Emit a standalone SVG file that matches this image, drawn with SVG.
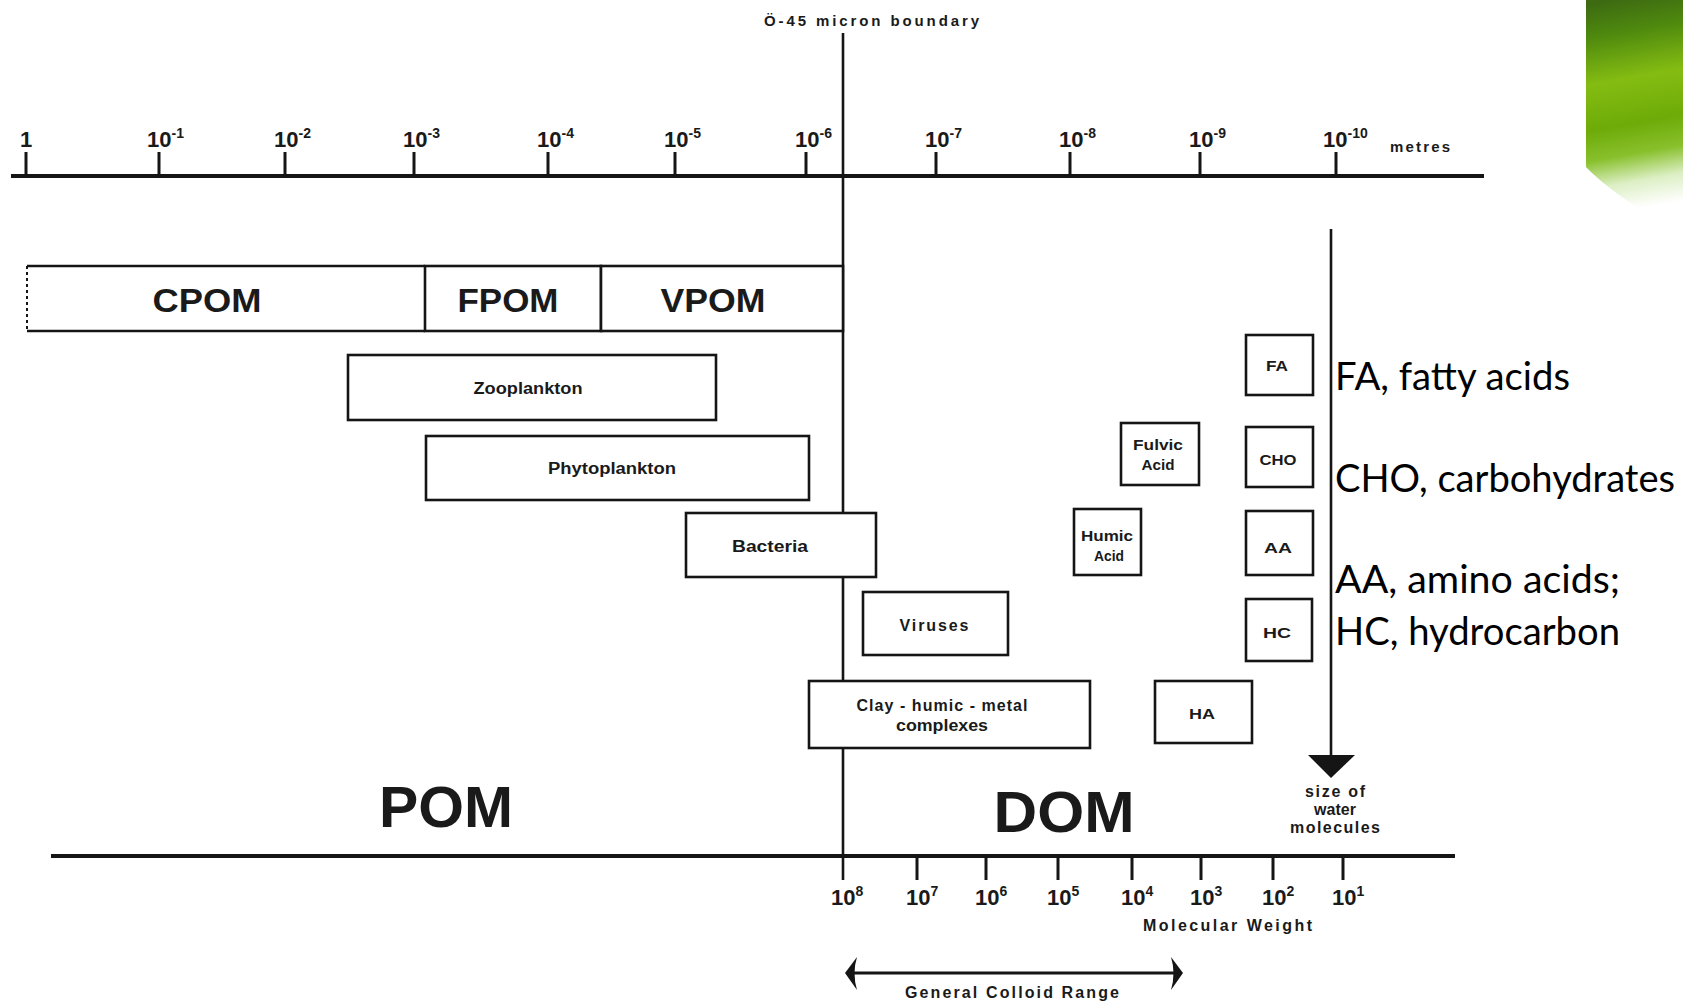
<svg xmlns="http://www.w3.org/2000/svg" width="1683" height="1003" viewBox="0 0 1683 1003">
<style>
.box{fill:#fff;stroke:#151515;stroke-width:2.6}
.ln{stroke:#151515;fill:none}
.lbl{font-family:"Liberation Sans",Arial,sans-serif;font-weight:bold;fill:#1a1a1a;text-anchor:middle}
.num{font-family:"Liberation Sans",Arial,sans-serif;font-weight:bold;font-size:22px;fill:#1a1a1a}
.sup{font-size:14px}
.note{font-family:Lato,"Open Sans",sans-serif;font-size:38px;fill:#000}
</style>
<defs>
<linearGradient id="grn" gradientUnits="userSpaceOnUse" x1="1610" y1="0" x2="1650" y2="225">
<stop offset="0" stop-color="#3d6a12"/>
<stop offset="0.15" stop-color="#4f8a0e"/>
<stop offset="0.35" stop-color="#84bc12"/>
<stop offset="0.55" stop-color="#6eab08"/>
<stop offset="0.68" stop-color="#88c02c"/>
<stop offset="0.8" stop-color="#dcefc4"/>
<stop offset="0.92" stop-color="#ffffff"/>
</linearGradient>
</defs>
<rect width="1683" height="1003" fill="#fff"/>
<path d="M1586,0 L1683,0 L1683,232 C1650,217 1610,192 1586,167 Z" fill="url(#grn)"/>

<g id="connectors">
  <line class="ln" x1="11" y1="176" x2="1484" y2="176" stroke-width="4"/>
  <g class="ln" stroke-width="3">
    <line x1="26" y1="152" x2="26" y2="176"/>
    <line x1="159" y1="152" x2="159" y2="176"/>
    <line x1="285" y1="152" x2="285" y2="176"/>
    <line x1="414" y1="152" x2="414" y2="176"/>
    <line x1="548" y1="152" x2="548" y2="176"/>
    <line x1="675" y1="152" x2="675" y2="176"/>
    <line x1="806" y1="152" x2="806" y2="176"/>
    <line x1="936" y1="152" x2="936" y2="176"/>
    <line x1="1070" y1="152" x2="1070" y2="176"/>
    <line x1="1200" y1="152" x2="1200" y2="176"/>
    <line x1="1336" y1="152" x2="1336" y2="176"/>
  </g>
  <line class="ln" x1="843" y1="33" x2="843" y2="880" stroke-width="2.6"/>
  <line class="ln" x1="51" y1="856" x2="1455" y2="856" stroke-width="4"/>
  <g class="ln" stroke-width="3">
    <line x1="917" y1="856" x2="917" y2="880"/>
    <line x1="986" y1="856" x2="986" y2="880"/>
    <line x1="1058" y1="856" x2="1058" y2="880"/>
    <line x1="1132" y1="856" x2="1132" y2="880"/>
    <line x1="1201" y1="856" x2="1201" y2="880"/>
    <line x1="1273" y1="856" x2="1273" y2="880"/>
    <line x1="1343" y1="856" x2="1343" y2="880"/>
  </g>
  <line class="ln" x1="1331" y1="229" x2="1331" y2="760" stroke-width="2.6"/>
  <path d="M1308,755 L1355,755 L1331,778 Z" fill="#151515"/>
  <line class="ln" x1="852" y1="973" x2="1176" y2="973" stroke-width="3"/>
  <path d="M845,973 L857,957 Q852,973 857,990 Z" fill="#151515"/>
  <path d="M1183,973 L1171,957 Q1176,973 1171,990 Z" fill="#151515"/>
</g>

<g id="axis-labels">
  <text x="764" y="26" class="lbl" style="text-anchor:start;font-size:15px" textLength="215" lengthAdjust="spacing">Ö-45 micron boundary</text>
  <text x="20" y="147" class="num">1</text>
  <text x="147" y="147" class="num">10<tspan class="sup" dy="-9">-1</tspan></text>
  <text x="274" y="147" class="num">10<tspan class="sup" dy="-9">-2</tspan></text>
  <text x="403" y="147" class="num">10<tspan class="sup" dy="-9">-3</tspan></text>
  <text x="537" y="147" class="num">10<tspan class="sup" dy="-9">-4</tspan></text>
  <text x="664" y="147" class="num">10<tspan class="sup" dy="-9">-5</tspan></text>
  <text x="795" y="147" class="num">10<tspan class="sup" dy="-9">-6</tspan></text>
  <text x="925" y="147" class="num">10<tspan class="sup" dy="-9">-7</tspan></text>
  <text x="1059" y="147" class="num">10<tspan class="sup" dy="-9">-8</tspan></text>
  <text x="1189" y="147" class="num">10<tspan class="sup" dy="-9">-9</tspan></text>
  <text x="1323" y="147" class="num">10<tspan class="sup" dy="-9">-10</tspan></text>
  <text x="1390" y="152" class="lbl" style="text-anchor:start;font-size:15px" textLength="60" lengthAdjust="spacing">metres</text>

  <text x="831" y="905" class="num">10<tspan class="sup" dy="-9">8</tspan></text>
  <text x="906" y="905" class="num">10<tspan class="sup" dy="-9">7</tspan></text>
  <text x="975" y="905" class="num">10<tspan class="sup" dy="-9">6</tspan></text>
  <text x="1047" y="905" class="num">10<tspan class="sup" dy="-9">5</tspan></text>
  <text x="1121" y="905" class="num">10<tspan class="sup" dy="-9">4</tspan></text>
  <text x="1190" y="905" class="num">10<tspan class="sup" dy="-9">3</tspan></text>
  <text x="1262" y="905" class="num">10<tspan class="sup" dy="-9">2</tspan></text>
  <text x="1332" y="905" class="num">10<tspan class="sup" dy="-9">1</tspan></text>
  <text x="1143" y="931" class="lbl" style="text-anchor:start;font-size:16px" textLength="169" lengthAdjust="spacing">Molecular  Weight</text>
  <text x="905" y="998" class="lbl" style="text-anchor:start;font-size:16px" textLength="214" lengthAdjust="spacing">General  Colloid  Range</text>
  <text x="1335" y="797" class="lbl" style="font-size:16px" textLength="60" lengthAdjust="spacing">size of</text>
  <text x="1335" y="815" class="lbl" style="font-size:16px" textLength="42" lengthAdjust="spacing">water</text>
  <text x="1335" y="833" class="lbl" style="font-size:16px" textLength="90" lengthAdjust="spacing">molecules</text>
  <text x="446" y="827" class="lbl" style="font-size:58px" textLength="134" lengthAdjust="spacingAndGlyphs">POM</text>
  <text x="1064" y="832" class="lbl" style="font-size:58px" textLength="141" lengthAdjust="spacingAndGlyphs">DOM</text>
</g>

<g id="CPOM">
  <line class="ln" x1="27" y1="266" x2="425" y2="266" stroke-width="2.6"/>
  <line class="ln" x1="27" y1="331" x2="425" y2="331" stroke-width="2.6"/>
  <line class="ln" x1="27" y1="266" x2="27" y2="331" stroke-width="2" stroke-dasharray="3,3"/>
  <text x="207" y="312" class="lbl" style="font-size:33px" textLength="109" lengthAdjust="spacingAndGlyphs">CPOM</text>
</g>
<g id="FPOM">
  <rect class="box" x="425" y="266" width="176" height="65"/>
  <text x="508" y="312" class="lbl" style="font-size:33px" textLength="101" lengthAdjust="spacingAndGlyphs">FPOM</text>
</g>
<g id="VPOM">
  <rect class="box" x="601" y="266" width="242" height="65"/>
  <text x="713" y="312" class="lbl" style="font-size:33px" textLength="105" lengthAdjust="spacingAndGlyphs">VPOM</text>
</g>
<g id="zooplankton">
  <rect class="box" x="348" y="355" width="368" height="65"/>
  <text x="528" y="394" class="lbl" style="font-size:16px" textLength="109" lengthAdjust="spacingAndGlyphs">Zooplankton</text>
</g>
<g id="phytoplankton">
  <rect class="box" x="426" y="436" width="383" height="64"/>
  <text x="612" y="474" class="lbl" style="font-size:16px" textLength="128" lengthAdjust="spacingAndGlyphs">Phytoplankton</text>
</g>
<g id="bacteria">
  <rect class="box" x="686" y="513" width="190" height="64"/>
  <text x="770" y="552" class="lbl" style="font-size:16px" textLength="76" lengthAdjust="spacingAndGlyphs">Bacteria</text>
</g>
<g id="viruses">
  <rect class="box" x="863" y="592" width="145" height="63"/>
  <text x="934" y="631" class="lbl" style="font-size:16px" textLength="69" lengthAdjust="spacing">Viruses</text>
</g>
<g id="clay">
  <rect class="box" x="809" y="681" width="281" height="67"/>
  <text x="942" y="711" class="lbl" style="font-size:16px" textLength="171" lengthAdjust="spacing">Clay - humic - metal</text>
  <text x="942" y="731" class="lbl" style="font-size:16px" textLength="92" lengthAdjust="spacingAndGlyphs">complexes</text>
</g>
<g id="fulvic-acid">
  <rect class="box" x="1121" y="423" width="78" height="62"/>
  <text x="1158" y="450" class="lbl" style="font-size:15px" textLength="50" lengthAdjust="spacingAndGlyphs">Fulvic</text>
  <text x="1158" y="470" class="lbl" style="font-size:15px" textLength="33" lengthAdjust="spacingAndGlyphs">Acid</text>
</g>
<g id="humic-acid">
  <rect class="box" x="1074" y="509" width="67" height="66"/>
  <text x="1107" y="541" class="lbl" style="font-size:15px" textLength="52" lengthAdjust="spacingAndGlyphs">Humic</text>
  <text x="1109" y="561" class="lbl" style="font-size:15px" textLength="30" lengthAdjust="spacingAndGlyphs">Acid</text>
</g>
<g id="HA">
  <rect class="box" x="1155" y="681" width="97" height="62"/>
  <text x="1202" y="719" class="lbl" style="font-size:15px" textLength="26" lengthAdjust="spacingAndGlyphs">HA</text>
</g>
<g id="FA">
  <rect class="box" x="1246" y="335" width="67" height="60"/>
  <text x="1277" y="371" class="lbl" style="font-size:14px" textLength="22" lengthAdjust="spacingAndGlyphs">FA</text>
</g>
<g id="CHO">
  <rect class="box" x="1246" y="427" width="67" height="60"/>
  <text x="1278" y="465" class="lbl" style="font-size:14px" textLength="37" lengthAdjust="spacingAndGlyphs">CHO</text>
</g>
<g id="AA">
  <rect class="box" x="1246" y="511" width="67" height="64"/>
  <text x="1278" y="553" class="lbl" style="font-size:14px" textLength="28" lengthAdjust="spacingAndGlyphs">AA</text>
</g>
<g id="HC">
  <rect class="box" x="1246" y="599" width="66" height="62"/>
  <text x="1277" y="638" class="lbl" style="font-size:14px" textLength="28" lengthAdjust="spacingAndGlyphs">HC</text>
</g>

<g id="legend">
  <text x="1335" y="390" class="note" textLength="235" lengthAdjust="spacingAndGlyphs">FA, fatty acids</text>
  <text x="1335" y="492" class="note" textLength="340" lengthAdjust="spacingAndGlyphs">CHO, carbohydrates</text>
  <text x="1335" y="593" class="note" textLength="285" lengthAdjust="spacingAndGlyphs">AA, amino acids;</text>
  <text x="1335" y="645" class="note" textLength="285" lengthAdjust="spacingAndGlyphs">HC, hydrocarbon</text>
</g>
</svg>
